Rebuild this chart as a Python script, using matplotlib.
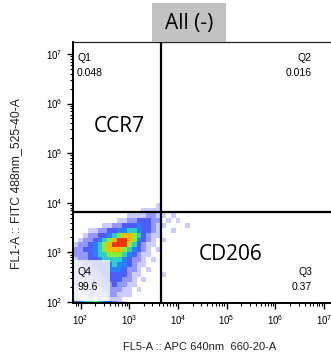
import numpy as np
import matplotlib
matplotlib.use("Agg")
import matplotlib.pyplot as plt
from matplotlib.colors import ListedColormap, BoundaryNorm
from matplotlib.patches import Rectangle

plt.rcParams['font.family'] = ['Liberation Sans', 'DejaVu Sans']
plt.rcParams['mathtext.fontset'] = 'custom'
plt.rcParams['mathtext.rm'] = 'Liberation Sans'
plt.rcParams['mathtext.it'] = 'Liberation Sans:italic'
plt.rcParams['mathtext.bf'] = 'Liberation Sans:bold'

# ---- data -------------------------------------------------------------
title = "All (-)"
x_label = "FL5-A :: APC 640nm  660-20-A"
y_label = "FL1-A :: FITC 488nm_525-40-A"
x_gate = 4400          # quadrant split on FL5-A
y_gate = 6400          # quadrant split on FL1-A
quadrant_names = ["Q1", "Q2", "Q3", "Q4"]
quadrant_pct = ["0.048", "0.016", "0.37", "99.6"]
marker_names = ["CCR7", "CD206"]

# event density levels (0 = empty ... 8 = highest) on 0.1-decade bins
bin_log_x0 = 1.85
bin_log_y0 = 2.0
bin_step = 0.1
density_rows = [          # first string = top row (log10 FL1 3.9-4.0)
    "00000000000000000100000000",
    "00000000000000111100000000",
    "00000000000111122110100000",
    "00000000011223332201010000",
    "00000011223334332110000100",
    "00011223344554332100100000",
    "00122334567765321100000000",
    "01223456788764321010000000",
    "12234567888653211000000000",
    "22334567776543210100000000",
    "22234556665432110000000000",
    "12233455554322101000000000",
    "11223344544321100000000000",
    "11122334443221010000000000",
    "11122233333211000010000000",
    "11112223332210100000000000",
    "10111222322110000000000000",
    "10111122221101000000000000",
    "10011112211100000000000000",
    "10010101110000000000000000",
]
# events piled up on the lower scale limit
floor_row = "34556543211000000000000000"
floor_log_band = (1.98, 2.02)

# ---- figure -----------------------------------------------------------
W, H = 331, 358
fig = plt.figure(figsize=(W / 100, H / 100), dpi=100)


def fx(px):
    return px / W


def fy(py):
    return 1 - py / H


ax_left, ax_right, ax_top, ax_bottom = 73, 332, 42, 303
ax = fig.add_axes([fx(ax_left), fy(ax_bottom),
                   (ax_right - ax_left) / W, (ax_bottom - ax_top) / H])
ax.set_xscale('log')
ax.set_yscale('log')
ax.set_xlim(10 ** 1.846, 10 ** 7.16)
ax.set_ylim(10 ** 1.98, 10 ** 7.24)

level_colors = [
    (0.10, 0.10, 1.00, 0.22),
    (0.10, 0.10, 1.00, 0.46),
    (0.05, 0.15, 1.00, 0.74),
    (0.05, 0.45, 1.00, 0.90),
    (0.15, 0.80, 0.75, 0.95),
    (0.55, 0.92, 0.20, 1.00),
    (1.00, 0.72, 0.00, 1.00),
    (0.95, 0.20, 0.05, 1.00),
]
cmap = ListedColormap(level_colors)
norm = BoundaryNorm(np.arange(0.5, 9.5, 1), cmap.N)

levels = np.array([[int(c) for c in row] for row in density_rows[::-1]], float)
n_rows, n_cols = levels.shape
xe = 10 ** (bin_log_x0 + bin_step * np.arange(n_cols + 1))
ye = 10 ** (bin_log_y0 + bin_step * np.arange(n_rows + 1))
ax.pcolormesh(xe, ye, np.ma.masked_equal(levels, 0), cmap=cmap, norm=norm,
              shading='flat', zorder=1, edgecolors='none', antialiased=False)

floor = np.array([[int(c) for c in floor_row]], float)
ax.pcolormesh(xe, 10 ** np.array(floor_log_band), np.ma.masked_equal(floor, 0),
              cmap=cmap, norm=norm, shading='flat', zorder=1)

# translucent label panel in the lower-left quadrant
ax.add_patch(Rectangle((10 ** 1.846, 10 ** 2.02), 10 ** 2.60 - 10 ** 1.846,
                       10 ** 2.85 - 10 ** 2.02, facecolor='#f4f6fc',
                       edgecolor='none', alpha=0.82, zorder=2))

ax.axvline(x_gate, color='black', lw=1.6, zorder=3)
ax.axhline(y_gate, color='black', lw=1.6, zorder=3)

for side in ('left', 'bottom'):
    ax.spines[side].set_linewidth(1.4)
ax.spines['top'].set_linewidth(0.9)
ax.spines['top'].set_color('#222222')
ax.spines['right'].set_visible(False)

ax.set_xticks([10 ** k for k in range(2, 8)])
ax.set_yticks([10 ** k for k in range(2, 8)])
ax.tick_params(which='major', direction='out', length=4, width=1.0,
               labelsize=7, pad=3)
ax.tick_params(which='minor', direction='out', length=2.2, width=0.8)
ax.tick_params(axis='y', which='both', pad=3.5)

# title tab
fig.patches.append(Rectangle((fx(152), fy(42)), 74 / W, 39 / H,
                             transform=fig.transFigure, facecolor='#c2c2c2',
                             edgecolor='none', zorder=0))
fig.text(fx(189), fy(23), title, ha='center', va='center', fontsize=15,
         family=['Open Sans', 'DejaVu Sans'])

fig.text(fx(200), fy(347), x_label, ha='center', va='center', fontsize=8,
         color='#222222')
fig.text(fx(16), fy(184), y_label, ha='center', va='center', fontsize=8.8,
         rotation=90, color='#222222')

qs = 7.5
fig.text(fx(77), fy(58), quadrant_names[0], ha='left', va='center', fontsize=qs)
fig.text(fx(77), fy(73), quadrant_pct[0], ha='left', va='center', fontsize=qs)
fig.text(fx(312), fy(58), quadrant_names[1], ha='right', va='center', fontsize=qs)
fig.text(fx(312), fy(73), quadrant_pct[1], ha='right', va='center', fontsize=qs)
fig.text(fx(312), fy(272), quadrant_names[2], ha='right', va='center', fontsize=qs)
fig.text(fx(312), fy(287), quadrant_pct[2], ha='right', va='center', fontsize=qs)
fig.text(fx(77), fy(272), quadrant_names[3], ha='left', va='center', fontsize=qs)
fig.text(fx(77), fy(287), quadrant_pct[3], ha='left', va='center', fontsize=qs)

fig.text(fx(119), fy(126), marker_names[0], ha='center', va='center',
         fontsize=15, family=['Open Sans', 'DejaVu Sans'])
fig.text(fx(231), fy(254), marker_names[1], ha='center', va='center',
         fontsize=15, family=['Open Sans', 'DejaVu Sans'])

fig.savefig("out.png", dpi=100)
